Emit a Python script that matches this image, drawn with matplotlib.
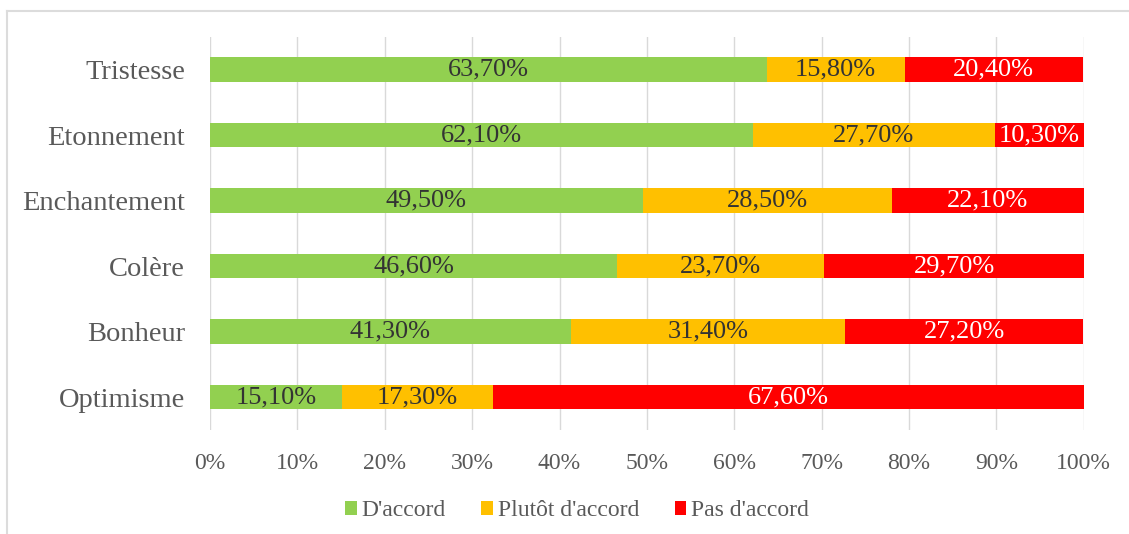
import matplotlib.pyplot as plt
from matplotlib.lines import Line2D
import numpy as np

categories = ['Tristesse', 'Etonnement', 'Enchantement', 'Colère', 'Bonheur', 'Optimisme']
accord = [63.7, 62.1, 49.5, 46.6, 41.3, 15.1]
plutot = [15.8, 27.7, 28.5, 23.7, 31.4, 17.3]
pas_accord = [20.4, 10.3, 22.1, 29.7, 27.2, 67.6]
series_names = ["D'accord", "Plutôt d'accord", "Pas d'accord"]

GREEN = '#92D050'
ORANGE = '#FFC000'
RED = '#FF0000'

plt.rcParams['font.family'] = ['Liberation Serif', 'DejaVu Serif']

fig = plt.figure(figsize=(11.29, 5.34), dpi=100)
ax = fig.add_axes([0.186, 0.195, 0.774, 0.736])

# cropped frame: only top and left edges show
fx, fy = 7 / 1129, 1 - 11 / 534
fig.add_artist(Line2D([fx, 1], [fy, fy], transform=fig.transFigure, color='#dcdcdc', lw=1.5))
fig.add_artist(Line2D([fx, fx], [0, fy], transform=fig.transFigure, color='#dcdcdc', lw=1.5))

y = np.arange(len(categories))
series = [accord, plutot, pas_accord]
colors = [GREEN, ORANGE, RED]
text_colors = ['#333333', '#333333', 'white']

left = np.zeros(len(categories))
for vals, name, col, tcol in zip(series, series_names, colors, text_colors):
    vals = np.array(vals)
    bars = ax.barh(y, vals, left=left, height=0.37, color=col, label=name, zorder=3)
    labels = ['{:.2f}%'.format(v).replace('.', ',') for v in vals]
    ax.bar_label(bars, labels=labels, label_type='center', color=tcol, fontsize=19)
    left += vals

ax.set_xlim(0, 100)
ax.set_ylim(len(categories) - 0.5, -0.5)
ax.set_yticks(y)
ax.set_yticklabels(categories, fontsize=20.5)
ax.set_xticks(np.arange(0, 101, 10))
ax.set_xticklabels(['{}%'.format(t) for t in range(0, 101, 10)], fontsize=17)
ax.tick_params(axis='both', length=0, colors='#595959')
ax.tick_params(axis='x', pad=17)
ax.tick_params(axis='y', pad=18)
ax.grid(axis='x', color='#d9d9d9', linewidth=1, zorder=0)
for s in ax.spines.values():
    s.set_visible(False)

ax.legend(loc='upper center', bbox_to_anchor=(0.42, -0.125), ncol=3, frameon=False,
          fontsize=17, handlelength=0.5, handleheight=0.5, handletextpad=0.2,
          columnspacing=1.5, labelcolor='#595959')

fig.savefig('out.png', dpi=100)
